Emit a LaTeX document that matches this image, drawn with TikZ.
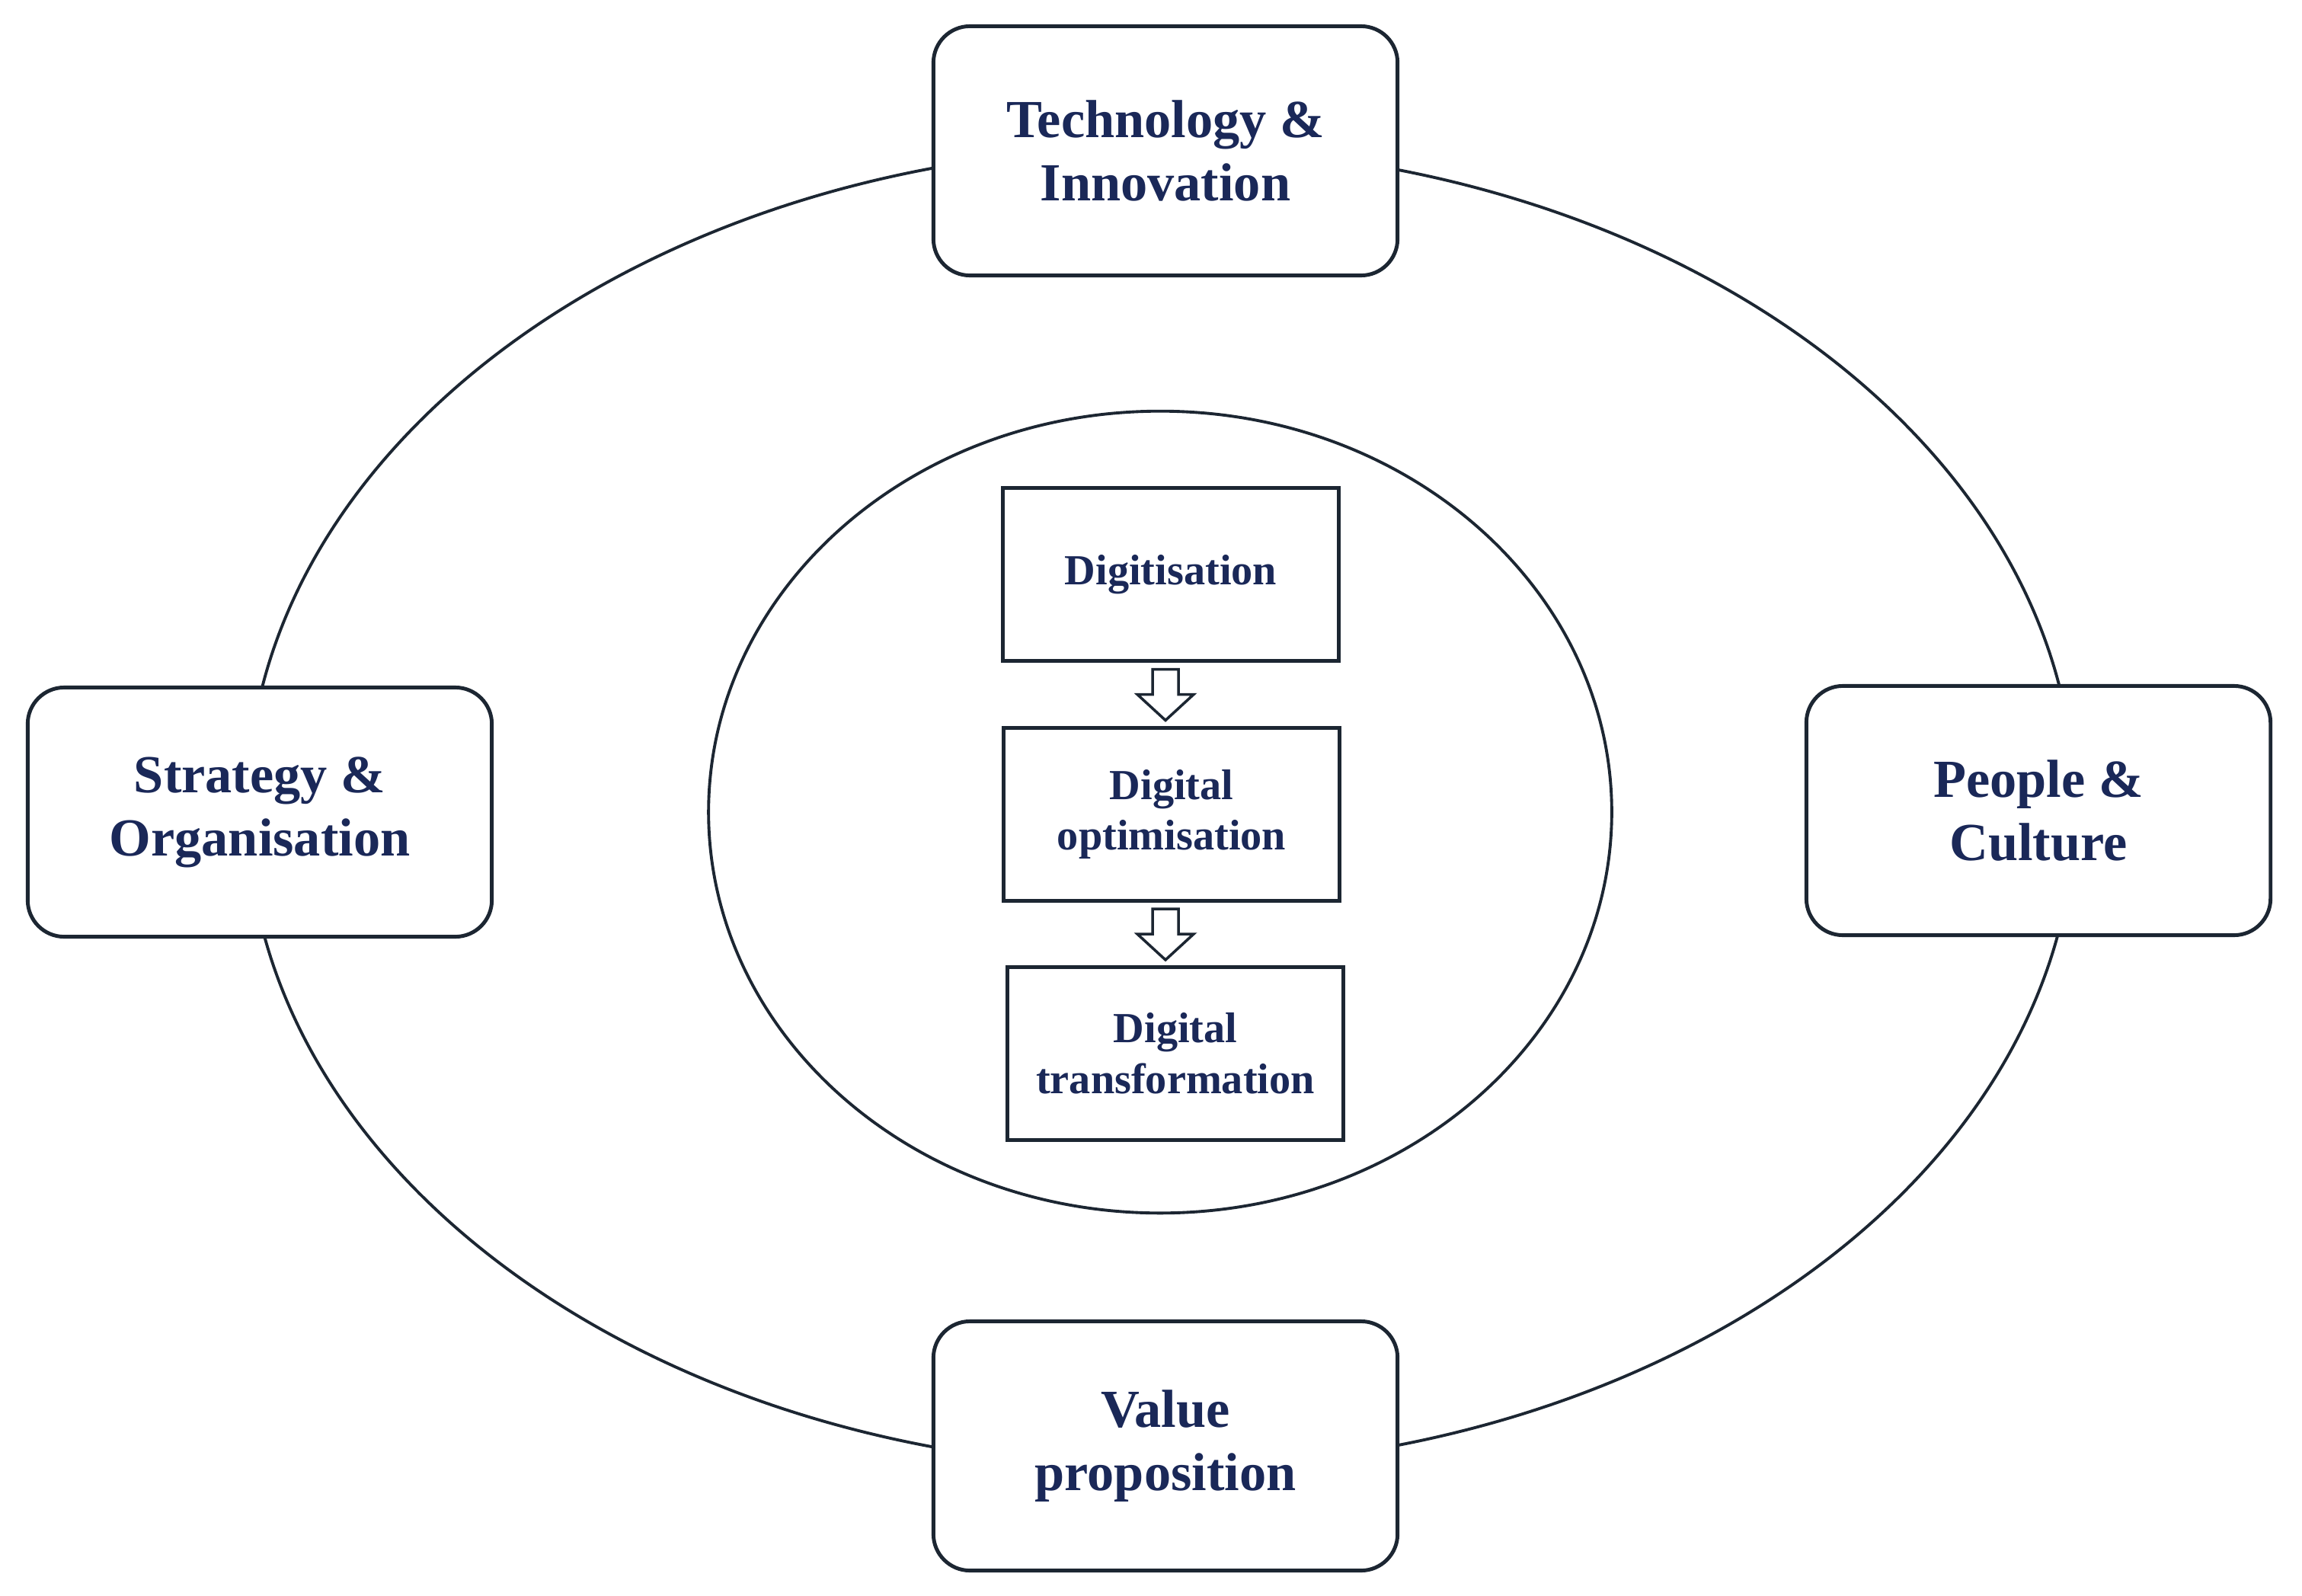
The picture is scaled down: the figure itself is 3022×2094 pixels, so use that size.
\documentclass[tikz,border=0pt]{standalone}
\usepackage{fontspec}
\setmainfont{Liberation Serif}
\usetikzlibrary{shapes.geometric,calc}
\definecolor{linecol}{RGB}{28,38,50}
\definecolor{txtcol}{RGB}{26,40,88}
\begin{document}
\begin{tikzpicture}[x=0.01cm,y=-0.01cm,
  pillar/.style={draw=linecol, line width=1.4pt, rounded corners=0.48cm, fill=white,
    minimum width=6.09cm, minimum height=3.27cm, align=center, text=txtcol,
    font=\bfseries\fontsize{20}{23.6}\selectfont, inner sep=0pt},
  stage/.style={draw=linecol, line width=1.35pt, fill=white,
    minimum width=4.41cm, minimum height=2.27cm, align=center, text=txtcol,
    font=\bfseries\fontsize{16}{19}\selectfont, inner sep=0pt},
  ring/.style={draw=linecol, line width=1.1pt, ellipse, inner sep=0pt},
  blockarrow/.style={draw=linecol, line width=1pt, fill=white, line join=miter}]
\useasboundingbox (0,0) rectangle (3022,2094);
\fill[white] (0,0) rectangle (3022,2094);
\node[ring, minimum width=23.98cm, minimum height=17.32cm] (outer) at (1524,1060) {};
\node[ring, minimum width=11.85cm, minimum height=10.52cm] (inner) at (1523,1066) {};
\node[pillar] (tech) at (1530,198) {Technology \&\\Innovation};
\node[pillar] (strat) at (341,1066) {Strategy \&\\Organisation};
\node[pillar] (people) at (2676,1064) {People \&\\Culture};
\node[pillar] (value) at (1530,1898) {Value\\proposition};
\node[stage] (d1) at (1537,754) {Digitisation};
\node[stage] (d2) at (1538,1069) {Digital\\optimisation};
\node[stage] (d3) at (1543,1383) {Digital\\transformation};
\coordinate (m1) at ($(d1.south)!0.5!(d2.north)$);
\coordinate (m2) at ($(d2.south)!0.5!(d3.north)$);
\coordinate (a1) at (m1 -| tech.center);
\coordinate (a2) at (m2 -| tech.center);
\foreach \a in {a1,a2}{
  \draw[blockarrow, shift={(\a)}] (-17,-33) -- (17,-33) -- (17,0) -- (37,0) -- (0,34) -- (-37,0) -- (-17,0) -- cycle;
}
\end{tikzpicture}
\end{document}
